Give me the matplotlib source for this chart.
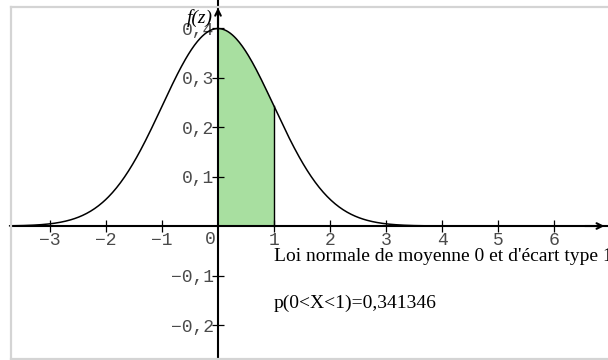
import numpy as np
import matplotlib.pyplot as plt
from matplotlib.lines import Line2D

# loi normale centrée réduite, aire entre a et b
moyenne = 0
ecart_type = 1
a, b = 0, 1
proba = 0.341346

xticks = [-3, -2, -1, 1, 2, 3, 4, 5, 6]
xlabels = ['\u22123', '\u22122', '\u22121', '1', '2', '3', '4', '5', '6']
yticks = [-0.2, -0.1, 0.1, 0.2, 0.3, 0.4]
ylabels = ['\u22120,2', '\u22120,1', '0,1', '0,2', '0,3', '0,4']


def densite(x):
    return np.exp(-0.5 * ((x - moyenne) / ecart_type) ** 2) / (ecart_type * np.sqrt(2 * np.pi))


fig = plt.figure(figsize=(6.08, 3.6), dpi=100)
ax = fig.add_axes([0, 0, 1, 1])
ax.set_xlim(-3.893, 6.964)
ax.set_ylim(-0.2707, 0.4566)

z = np.linspace(-3.72, 6.96, 600)
ax.plot(z, densite(z), color='black', lw=1.1)

zz = np.linspace(a, b, 200)
ax.fill_between(zz, 0, densite(zz), color='#a8dfa0', lw=0)
ax.plot([b, b], [0, densite(b)], color='black', lw=1.0)

# axes passant par l'origine
for s in ['top', 'right']:
    ax.spines[s].set_visible(False)
ax.spines['left'].set_position('zero')
ax.spines['bottom'].set_position('zero')
ax.spines['left'].set_linewidth(1.5)
ax.spines['bottom'].set_linewidth(1.5)
ax.spines['bottom'].set_bounds(-3.70, 6.964)
ax.annotate('', xy=(0, 0.4465), xytext=(0, 0.40),
            arrowprops=dict(arrowstyle='->', lw=1.5, color='black'),
            annotation_clip=False)
ax.annotate('', xy=(6.95, 0), xytext=(6.5, 0),
            arrowprops=dict(arrowstyle='->', lw=1.5, color='black'),
            annotation_clip=False)

mono = 'Liberation Mono'
tsize = 13
gris_txt = '#4a4a4a'
ax.set_xticks(xticks)
ax.set_xticklabels(xlabels, family=mono, fontsize=tsize, color=gris_txt)
ax.set_yticks(yticks)
ax.set_yticklabels(ylabels, family=mono, fontsize=tsize, color=gris_txt)
ax.tick_params(direction='inout', length=8, width=0.9, color='black')
ax.tick_params(axis='x', pad=0)
ax.tick_params(axis='y', pad=-1)

ax.text(-0.05, -0.010, '0', family=mono, fontsize=tsize, color=gris_txt,
        ha='right', va='top')
ax.text(-0.09, 0.420, 'f(z)', family='Liberation Serif', style='italic',
        fontsize=14, ha='right', va='center')

serif = 'Liberation Serif'
ax.text(1, -0.061, "Loi normale de moyenne %d et d'écart type %d" % (moyenne, ecart_type),
        family=serif, fontsize=14, ha='left', va='center')
ax.text(1, -0.1555, 'p(%d<X<%d)=%s' % (a, b, ('%.6f' % proba).replace('.', ',')),
        family=serif, fontsize=14, ha='left', va='center')

# cadre gris
gris = '#d4d4d4'
fig.add_artist(Line2D([10.5 / 608, 10.5 / 608], [1.5 / 360, 353.5 / 360],
                      color=gris, lw=1.6, transform=fig.transFigure))
fig.add_artist(Line2D([10.5 / 608, 1], [353.5 / 360, 353.5 / 360],
                      color=gris, lw=1.6, transform=fig.transFigure))
fig.add_artist(Line2D([10.5 / 608, 1], [1.5 / 360, 1.5 / 360],
                      color=gris, lw=1.6, transform=fig.transFigure))

fig.savefig('out.png', dpi=100)
